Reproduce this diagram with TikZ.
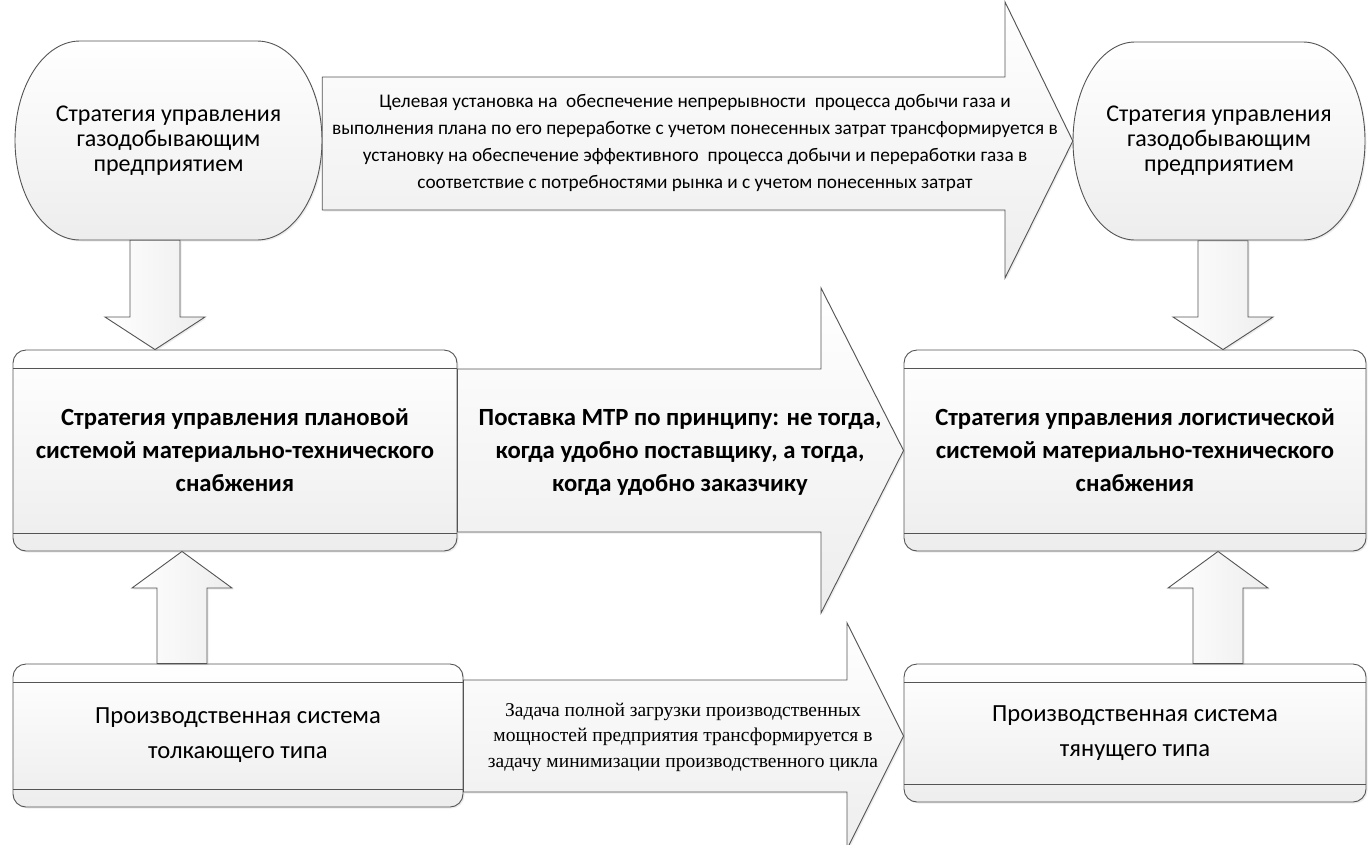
\documentclass[tikz,border=0pt]{standalone}
\usepackage{fontspec}
\setmainfont{Carlito}
\newfontfamily\timesfont{Liberation Serif}
\usetikzlibrary{shadows}
\definecolor{edge}{gray}{0.33}
\tikzset{
  shp/.style={draw=edge, line width=0.9pt, top color=white, bottom color=black!7,
    drop shadow={shadow xshift=1.5pt, shadow yshift=-1.5pt, opacity=0.15}},
  vshp/.style={shp, left color=white, right color=black!7},
  pilltxt/.style={inner sep=0pt, align=center, minimum width=#1, minimum height=199pt,
    font=\fontsize{24}{25}\selectfont},
  bandbox/.style 2 args={shp, rounded corners=13pt, inner sep=0pt, align=center,
    minimum width=#1, minimum height=#2,
    path picture={
      \draw[edge, line width=0.9pt]
        ([yshift=-18pt]path picture bounding box.north west) -- ([yshift=-18pt]path picture bounding box.north east)
        ([yshift=18pt]path picture bounding box.south west) -- ([yshift=18pt]path picture bounding box.south east);
    }},
  boldtxt/.style={font=\fontsize{24.7}{33}\selectfont\bfseries},
  normtxt/.style={font=\fontsize{24.6}{35}\selectfont},
  goaltxt/.style={align=center, inner sep=0pt, font=\fontsize{19.3}{27}\selectfont},
  tasktxt/.style={align=center, inner sep=0pt, font=\timesfont\fontsize{19.5}{25.5}\selectfont}
}
\begin{document}
\begin{tikzpicture}[x=1pt, y=-1pt]
\useasboundingbox (0,0) rectangle (1368,844);

\draw[shp] (80,41) -- (257,41) arc[start angle=270, end angle=360, x radius=65, y radius=99.5]
  arc[start angle=0, end angle=90, x radius=65, y radius=99.5] -- (80,240)
  arc[start angle=90, end angle=180, x radius=65, y radius=99.5]
  arc[start angle=180, end angle=270, x radius=65, y radius=99.5] -- cycle;
\node[pilltxt=307pt] (gasL) at (168.5,140.5) {Стратегия управления\\газодобывающим\\предприятием};

\draw[shp] (1135,42) -- (1303,42) arc[start angle=270, end angle=360, x radius=62, y radius=99]
  arc[start angle=0, end angle=90, x radius=62, y radius=99] -- (1135,240)
  arc[start angle=90, end angle=180, x radius=62, y radius=99]
  arc[start angle=180, end angle=270, x radius=62, y radius=99] -- cycle;
\node[pilltxt=292pt] (gasR) at (1219,141) {Стратегия управления\\газодобывающим\\предприятием};

\node[bandbox={444pt}{201pt}, boldtxt] (plan) at (235,450.5) {Стратегия управления плановой\\системой материально-технического\\снабжения};
\node[bandbox={462pt}{201pt}, boldtxt] (logi) at (1135,450.5) {Стратегия управления логистической\\системой материально-технического\\снабжения};
\node[bandbox={450pt}{143pt}, normtxt] (push) at (238,735.5) {Производственная система\\толкающего типа};
\node[bandbox={462pt}{138pt}, normtxt] (pull) at (1135,733) {Производственная система\\тянущего типа};

\draw[shp] (gasL.east |- 0,77) -- (1005,77) -- (1005,2) -- (gasR.west) -- (1005,278) -- (1005,210) -- (gasL.east |- 0,210) -- cycle;
\node[goaltxt] (goal) at (695,143) {Целевая установка на~ обеспечение непрерывности~ процесса добычи газа и\\выполнения плана по его переработке с учетом понесенных затрат трансформируется в\\установку на обеспечение эффективного~ процесса добычи и переработки газа в\\соответствие с потребностями рынка и с учетом понесенных затрат};

\draw[shp] (plan.east |- 0,369) -- (821,369) -- (821,288) -- (logi.west) -- (821,613) -- (821,532) -- (plan.east |- 0,532) -- cycle;
\node[boldtxt, align=center, inner sep=0pt] (supply) at (680,452) {Поставка МТР по принципу: не тогда,\\когда удобно поставщику, а тогда,\\когда удобно заказчику};

\draw[shp] (push.east |- 0,680) -- (847,680) -- (847,623) -- (pull.west |- 0,736) -- (847,849) -- (847,792) -- (push.east |- 0,792) -- cycle;
\node[tasktxt] (task) at (683,737) {Задача полной загрузки производственных\\мощностей предприятия трансформируется в\\задачу минимизации производственного цикла};

\draw[vshp] (130,0 |- gasL.south) -- (130,317) -- (105,317) -- (155,0 |- plan.north) -- (205,317) -- (180,317) -- (180,0 |- gasL.south) -- cycle;
\draw[vshp] (1198,0 |- gasR.south) -- (1198,317) -- (1173,317) -- (1223,0 |- logi.north) -- (1273,317) -- (1248,317) -- (1248,0 |- gasR.south) -- cycle;
\draw[vshp] (157,0 |- push.north) -- (157,588) -- (132,588) -- (182,0 |- plan.south) -- (232,588) -- (207,588) -- (207,0 |- push.north) -- cycle;
\draw[vshp] (1193,0 |- pull.north) -- (1193,588) -- (1168,588) -- (1218,0 |- logi.south) -- (1268,588) -- (1243,588) -- (1243,0 |- pull.north) -- cycle;
\end{tikzpicture}
\end{document}
